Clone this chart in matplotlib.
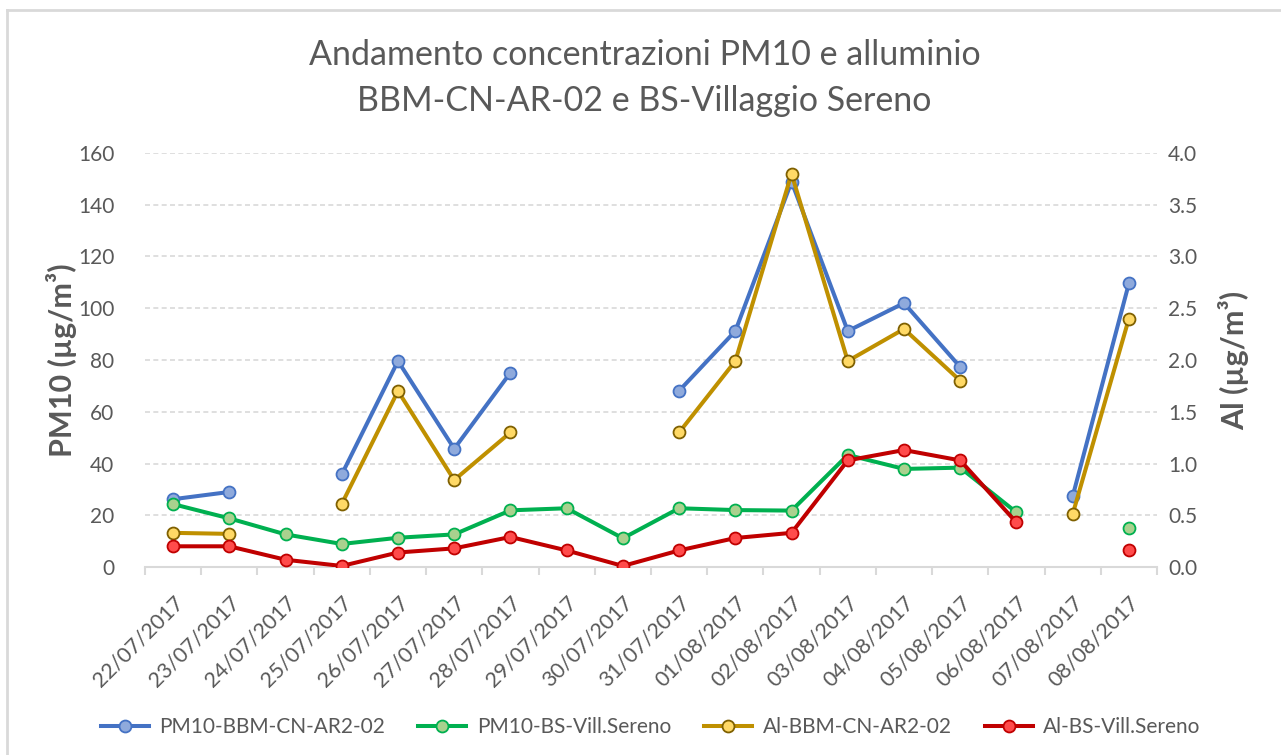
import matplotlib
matplotlib.use("Agg")
import matplotlib.pyplot as plt
import matplotlib.lines as mlines
import numpy as np

# ── data ─────────────────────────────────────────────────────────────────────
dates = ["22/07/2017", "23/07/2017", "24/07/2017", "25/07/2017", "26/07/2017",
         "27/07/2017", "28/07/2017", "29/07/2017", "30/07/2017", "31/07/2017",
         "01/08/2017", "02/08/2017", "03/08/2017", "04/08/2017", "05/08/2017",
         "06/08/2017", "07/08/2017", "08/08/2017"]
nan = np.nan
pm10_bbm = [26.2, 29.0, nan, 35.8, 79.6, 45.7, 75.1, nan, nan, 68.1,
            91.2, 148.9, 91.2, 102.0, 77.3, nan, 27.3, 109.6]
pm10_bs = [24.3, 18.8, 12.6, 8.9, 11.3, 12.6, 21.9, 22.7, 11.1, 22.7,
           22.0, 21.8, 43.3, 37.9, 38.4, 21.1, nan, 15.0]
al_bbm = [0.33, 0.32, nan, 0.61, 1.70, 0.84, 1.30, nan, nan, 1.30,
          1.99, 3.80, 1.99, 2.30, 1.80, nan, 0.51, 2.40]
al_bs = [0.20, 0.20, 0.07, 0.01, 0.14, 0.18, 0.29, 0.16, 0.01, 0.16,
         0.28, 0.33, 1.03, 1.13, 1.03, 0.43, nan, 0.16]

# ── styles ───────────────────────────────────────────────────────────────────
FONT = "Lato"
GREY = "#595959"
GRID = "#D9D9D9"
series_style = {
    "PM10-BBM-CN-AR2-02":   dict(color="#4472C4", mfc="#8FAADC", mec="#4472C4"),
    "PM10-BS-Vill.Sereno":  dict(color="#00B050", mfc="#A9D18E", mec="#00B050"),
    "Al-BBM-CN-AR2-02":     dict(color="#BF9000", mfc="#FFD966", mec="#7F6000"),
    "Al-BS-Vill.Sereno":    dict(color="#C00000", mfc="#FF4B4B", mec="#C00000"),
}
LW, MS, MEW = 2.9, 8.6, 1.3
TICK_FS = 15

plt.rcParams["font.family"] = [FONT, "DejaVu Sans"]

fig = plt.figure(figsize=(12.81, 7.55), dpi=100)
ax = fig.add_axes([145 / 1281, 1 - 567 / 755, (1157 - 145) / 1281, (567 - 153) / 755])
ax2 = ax.twinx()

x = np.arange(len(dates))


def _plot(a, y, name, z):
    st = series_style[name]
    y = np.asarray(y, dtype=float)
    a.plot(x, y, color=st["color"], lw=LW, marker="o", ms=MS, mfc=st["mfc"],
           mec=st["mec"], mew=MEW, zorder=z, solid_capstyle="round")


_plot(ax, pm10_bbm, "PM10-BBM-CN-AR2-02", 3)
_plot(ax, pm10_bs, "PM10-BS-Vill.Sereno", 4)
_plot(ax2, al_bbm, "Al-BBM-CN-AR2-02", 5)
_plot(ax2, al_bs, "Al-BS-Vill.Sereno", 6)

# ── axes ─────────────────────────────────────────────────────────────────────
ax.set_xlim(-0.5, len(dates) - 0.5)
ax.set_ylim(0, 160)
ax2.set_ylim(0, 4.0)
ax.set_yticks(np.arange(0, 161, 20))
ax2.set_yticks(np.arange(0, 4.01, 0.5))
ax2.set_yticklabels([f"{v:.1f}" for v in np.arange(0, 4.01, 0.5)])

ax.yaxis.grid(True, color=GRID, ls=(0, (3, 2)), lw=1.2)
ax.set_axisbelow(True)
for a in (ax, ax2):
    for sp in a.spines.values():
        sp.set_visible(False)
ax.spines["bottom"].set_visible(True)
ax.spines["bottom"].set_color(GRID)
ax.spines["bottom"].set_linewidth(1.5)

ax.tick_params(axis="y", length=0, labelsize=TICK_FS, labelcolor=GREY, pad=22)
ax2.tick_params(axis="y", length=0, labelsize=TICK_FS, labelcolor=GREY, pad=8)

# category labels at centres, tick marks at boundaries
ax.set_xticks(x)
ax.set_xticklabels(dates, rotation=45, ha="right", rotation_mode="anchor",
                   fontsize=TICK_FS + 0.5, color=GREY)
ax.tick_params(axis="x", which="major", length=0, pad=18)
ax.set_xticks(np.arange(-0.5, len(dates), 1.0), minor=True)
ax.tick_params(axis="x", which="minor", length=6, width=1.5, color=GRID)

ax.set_ylabel("PM10 (µg/m³)", fontsize=22, fontweight="bold", color=GREY, labelpad=1)
ax2.set_ylabel("Al (µg/m³)", fontsize=22, fontweight="bold", color=GREY,
               rotation=90, labelpad=15)

# ── title ────────────────────────────────────────────────────────────────────
fig.text(0.503, 1 - 55 / 755, "Andamento concentrazioni PM10 e alluminio",
         ha="center", va="center", fontsize=24.5, color=GREY)
fig.text(0.503, 1 - 101 / 755, "BBM-CN-AR-02 e BS-Villaggio Sereno",
         ha="center", va="center", fontsize=24.5, color=GREY)

# ── legend ───────────────────────────────────────────────────────────────────
handles = [mlines.Line2D([], [], color=st["color"], lw=LW, marker="o", ms=MS,
                         mfc=st["mfc"], mec=st["mec"], mew=MEW, label=name)
           for name, st in series_style.items()]
fig.legend(handles=handles, loc="center", bbox_to_anchor=(0.508, 1 - 727 / 755),
           ncol=4, frameon=False, fontsize=15, labelcolor=GREY,
           handlelength=2.3, columnspacing=1.6, handletextpad=0.5)

# chart-area border (left and top visible in the reference)
fig.add_artist(mlines.Line2D([7 / 1281, 7 / 1281], [0, 1 - 10 / 755],
                             transform=fig.transFigure, color=GRID, lw=2))
fig.add_artist(mlines.Line2D([7 / 1281, 1], [1 - 10 / 755, 1 - 10 / 755],
                             transform=fig.transFigure, color=GRID, lw=2))

fig.savefig("out.png", dpi=100, facecolor="white")
